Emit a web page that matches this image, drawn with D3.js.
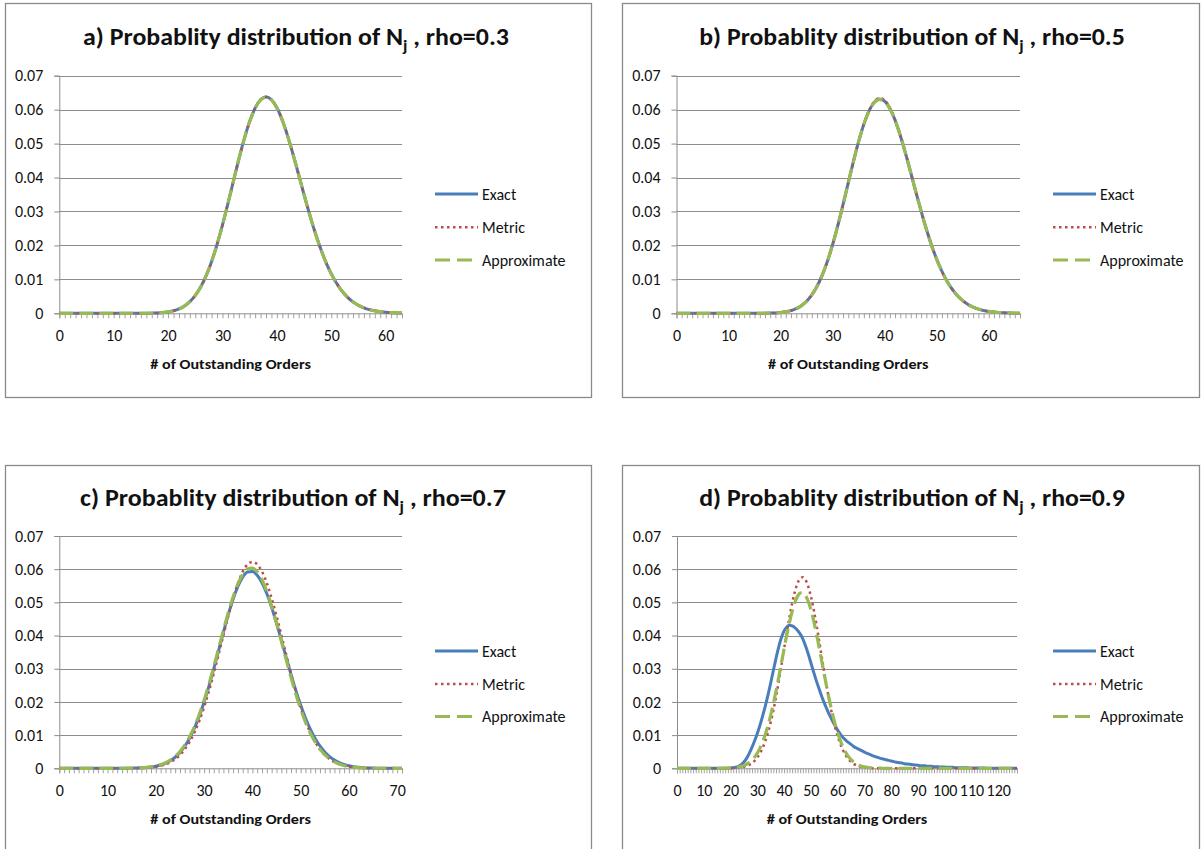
<!DOCTYPE html>
<html>
<head>
<meta charset="utf-8">
<script src="https://cdn.jsdelivr.net/npm/d3@7"></script>
<style>
  body { margin: 0; background: #fff; }
  text { font-family: "Carlito", "Liberation Sans Narrow", Roboto, sans-serif; fill: #111; }
</style>
</head>
<body>
<svg id="chart" width="1204" height="849"></svg>
<script>
// ---- data ----
var seriesNames = ["Exact", "Metric", "Approximate"];
var rhoLabels = ["0.3", "0.5", "0.7", "0.9"];
var yTickValues = [0, 0.01, 0.02, 0.03, 0.04, 0.05, 0.06, 0.07];
var yTickLabels = ["0", "0.01", "0.02", "0.03", "0.04", "0.05", "0.06", "0.07"];
var xTicksA = [0, 10, 20, 30, 40, 50, 60];
var xTicksB = [0, 10, 20, 30, 40, 50, 60];
var xTicksC = [0, 10, 20, 30, 40, 50, 60, 70];
var xTicksD = [0, 10, 20, 30, 40, 50, 60, 70, 80, 90, 100, 110, 120];

// a) rho=0.3, orders 0..63
var exactA = [0,0,0,0,0,0,0,0,0,0,0,0,0,0,0,
  0.00001,0.00002,0.00005,0.00010,0.00021,0.00040,0.00073,0.00127,0.00213,0.00342,
  0.00526,0.00779,0.01111,0.01528,0.02028,0.02603,0.03233,0.03890,0.04538,0.05139,
  0.05653,0.06045,0.06290,0.06373,0.06291,0.06055,0.05686,0.05212,0.04667,0.04083,
  0.03493,0.02924,0.02395,0.01921,0.01509,0.01162,0.00877,0.00649,0.00471,0.00336,
  0.00235,0.00162,0.00109,0.00073,0.00047,0.00030,0.00019,0.00012,0.00007];
var metricA = [0,0,0,0,0,0,0,0,0,0,0,0,0,0,0,
  0.00001,0.00002,0.00005,0.00010,0.00021,0.00040,0.00073,0.00127,0.00213,0.00342,
  0.00526,0.00779,0.01111,0.01528,0.02028,0.02603,0.03233,0.03890,0.04538,0.05139,
  0.05655,0.06048,0.06294,0.06380,0.06296,0.06058,0.05688,0.05212,0.04667,0.04083,
  0.03493,0.02924,0.02395,0.01921,0.01509,0.01162,0.00877,0.00649,0.00471,0.00336,
  0.00235,0.00162,0.00109,0.00073,0.00047,0.00030,0.00019,0.00012,0.00007];
var approxA = [0,0,0,0,0,0,0,0,0,0,0,0,0,0,0,
  0.00001,0.00002,0.00005,0.00010,0.00021,0.00040,0.00073,0.00127,0.00213,0.00342,
  0.00526,0.00779,0.01111,0.01528,0.02028,0.02603,0.03233,0.03890,0.04538,0.05139,
  0.05652,0.06042,0.06286,0.06366,0.06286,0.06052,0.05685,0.05212,0.04667,0.04083,
  0.03493,0.02924,0.02395,0.01921,0.01509,0.01162,0.00877,0.00649,0.00471,0.00336,
  0.00235,0.00162,0.00109,0.00073,0.00047,0.00030,0.00019,0.00012,0.00007];

// b) rho=0.5, orders 0..66
var exactB = [0,0,0,0,0,0,0,0,0,0,0,0,0,0,0,0,
  0.00001,0.00003,0.00006,0.00012,0.00023,0.00044,0.00079,0.00136,0.00225,0.00356,
  0.00542,0.00795,0.01124,0.01535,0.02026,0.02588,0.03203,0.03844,0.04477,0.05065,
  0.05572,0.05963,0.06214,0.06310,0.06247,0.06034,0.05689,0.05239,0.04715,0.04149,
  0.03572,0.03010,0.02483,0.02007,0.01590,0.01235,0.00940,0.00702,0.00515,0.00371,
  0.00262,0.00182,0.00124,0.00083,0.00055,0.00036,0.00023,0.00014,0.00009,0.00005,0.00003];
var metricB = [0,0,0,0,0,0,0,0,0,0,0,0,0,0,0,0,
  0.00001,0.00003,0.00006,0.00012,0.00023,0.00044,0.00079,0.00136,0.00225,0.00356,
  0.00542,0.00795,0.01124,0.01535,0.02026,0.02588,0.03203,0.03844,0.04477,0.05070,
  0.05585,0.05985,0.06240,0.06340,0.06275,0.06055,0.05700,0.05245,0.04715,0.04149,
  0.03572,0.03010,0.02483,0.02007,0.01590,0.01235,0.00940,0.00702,0.00515,0.00371,
  0.00262,0.00182,0.00124,0.00083,0.00055,0.00036,0.00023,0.00014,0.00009,0.00005,0.00003];
var approxB = [0,0,0,0,0,0,0,0,0,0,0,0,0,0,0,0,
  0.00001,0.00003,0.00006,0.00012,0.00023,0.00044,0.00079,0.00136,0.00225,0.00356,
  0.00542,0.00795,0.01124,0.01535,0.02026,0.02588,0.03203,0.03844,0.04477,0.05065,
  0.05570,0.05960,0.06210,0.06305,0.06243,0.06032,0.05689,0.05239,0.04715,0.04149,
  0.03572,0.03010,0.02483,0.02007,0.01590,0.01235,0.00940,0.00702,0.00515,0.00371,
  0.00262,0.00182,0.00124,0.00083,0.00055,0.00036,0.00023,0.00014,0.00009,0.00005,0.00003];

// c) rho=0.7, orders 0..71
var exactC = [0,0,0,0,0,0,0,0,0,0,0,0,0,
  0.00001,0.00002,0.00005,0.00008,0.00014,0.00024,0.00039,0.00063,0.00099,0.00152,
  0.00228,0.00333,0.00477,0.00666,0.00907,0.01208,0.01572,0.01996,0.02476,0.02999,
  0.03548,0.04098,0.04624,0.05095,0.05483,0.05763,0.05915,0.05930,0.05819,0.05591,
  0.05261,0.04847,0.04373,0.03863,0.03342,0.02831,0.02348,0.01907,0.01517,0.01181,
  0.00901,0.00673,0.00492,0.00352,0.00247,0.00170,0.00114,0.00075,0.00048,0.00031,
  0.00019,0.00011,0.00007,0.00004,0.00002,0.00001,0,0,0];
var metricC = [0,0,0,0,0,0,0,0,0,0,0,0,0,
  0.00001,0.00002,0.00003,0.00006,0.00010,0.00017,0.00029,0.00048,0.00077,0.00121,
  0.00185,0.00276,0.00403,0.00573,0.00796,0.01079,0.01427,0.01843,0.02322,0.02855,
  0.03427,0.04014,0.04589,0.05120,0.05575,0.05925,0.06145,0.06220,0.06145,0.05925,
  0.05575,0.05120,0.04589,0.04014,0.03427,0.02855,0.02322,0.01843,0.01427,0.01079,
  0.00796,0.00573,0.00403,0.00276,0.00185,0.00121,0.00077,0.00048,0.00029,0.00017,
  0.00010,0.00006,0.00003,0.00002,0.00001,0,0,0,0];
var approxC = [0,0,0,0,0,0,0,0,0,0,0,0,0,
  0.00001,0.00003,0.00005,0.00009,0.00016,0.00027,0.00044,0.00070,0.00109,0.00166,
  0.00246,0.00356,0.00505,0.00700,0.00948,0.01255,0.01623,0.02051,0.02533,0.03058,
  0.03608,0.04159,0.04687,0.05161,0.05555,0.05843,0.06006,0.06034,0.05924,0.05684,
  0.05330,0.04885,0.04375,0.03830,0.03276,0.02739,0.02238,0.01787,0.01394,0.01063,
  0.00793,0.00577,0.00411,0.00286,0.00194,0.00129,0.00084,0.00053,0.00033,0.00020,
  0.00012,0.00007,0.00004,0.00002,0.00001,0,0,0,0];

// d) rho=0.9, orders 0..127
var exactD = [0,0,0,0,0,0,0,0,0,0,0,0,0,0,0,0,0,0,0,0,
  0.0001,0.0002,0.0003,0.0006,0.0011,0.0019,0.0030,0.0045,0.0063,0.0083,
  0.0105,0.0130,0.0158,0.0188,0.0221,0.0257,0.0295,0.0332,0.0366,0.0394,
  0.0414,0.0426,0.0431,0.0429,0.0424,0.0416,0.0405,0.0390,0.0369,0.0345,
  0.0318,0.0291,0.0265,0.0241,0.0218,0.0197,0.0178,0.0160,0.0144,0.0129,
  0.0115,0.0103,0.0093,0.0085,0.0078,0.0072,0.0066,0.0061,0.0057,0.0053,
  0.0049,0.0045,0.0042,0.0038,0.0035,0.0033,0.0030,0.0028,0.0026,0.0024,
  0.0022,0.0020,0.0018,0.0017,0.0016,0.0014,0.0013,0.0012,0.0011,0.0010,
  0.0009,0.0008,0.0008,0.0007,0.0006,0.0006,0.0005,0.0005,0.0004,0.0004,
  0.0004,0.0003,0.0003,0.0003,0.0002,0.0002,0.0002,0.0002,0.0002,0.0001,
  0.0001,0.0001,0.0001,0.0001,0.0001,0.0001,
  0,0,0,0,0,0,0,0,0,0,0,0];
var metricD = [0,0,0,0,0,0,0,0,0,0,0,0,0,0,0,0,0,0,
  0.00001,0.00002,0.00004,0.00007,0.00011,0.00018,0.00029,0.00045,0.00070,0.00105,
  0.00156,0.00227,0.00323,0.00451,0.00616,0.00825,0.01082,0.01391,0.01752,0.02162,
  0.02614,0.03096,0.03593,0.04086,0.04553,0.04971,0.05317,0.05573,0.05722,0.05758,
  0.05676,0.05482,0.05188,0.04811,0.04371,0.03891,0.03394,0.02900,0.02429,0.01992,
  0.01602,0.01261,0.00973,0.00736,0.00545,0.00396,0.00281,0.00196,0.00134,0.00090,
  0.00059,0.00038,0.00024,0.00015,0.00009,0.00005,0.00003,0.00002,0.00001,
  0,0,0,0,0,0,0,0,0,0,0,0,0,0,0,0,0,0,0,0,0,0,0,0,0,
  0,0,0,0,0,0,0,0,0,0,0,0,0,0,0,0,0,0,0,0,0,0,0,0,0,0];
var approxD = [0,0,0,0,0,0,0,0,0,0,0,0,0,0,0,0,
  0.00001,0.00002,0.00004,0.00006,0.00010,0.00015,0.00024,0.00038,0.00057,0.00084,
  0.00122,0.00174,0.00245,0.00338,0.00458,0.00609,0.00797,0.01024,0.01292,0.01602,
  0.01952,0.02336,0.02747,0.03172,0.03598,0.04011,0.04391,0.04723,0.04991,0.05181,
  0.05283,0.05292,0.05208,0.05035,0.04782,0.04462,0.04090,0.03683,0.03257,0.02831,
  0.02416,0.02027,0.01669,0.01351,0.01074,0.00839,0.00644,0.00485,0.00359,0.00261,
  0.00187,0.00131,0.00090,0.00061,0.00041,0.00027,0.00017,0.00011,0.00007,0.00004,
  0.00003,0.00002,0.00001,
  0,0,0,0,0,0,0,0,0,0,0,0,0,0,0,0,0,0,0,0,0,0,0,0,0,
  0,0,0,0,0,0,0,0,0,0,0,0,0,0,0,0,0,0,0,0,0,0,0,0];

// ---- layout ----
var colors = ["#4a7ebb", "#be4b48", "#98b954"];
var widths = [3, 2.5, 3.2];
var dashes = [null, "2.5,3.5", "14,6"];
var legendDashes = [null, "2.5,3.5", "15,7"];
var fontStack = "Carlito, 'Liberation Sans Narrow', Roboto, sans-serif";

var panels = [
  {tag: "a", rho: rhoLabels[0], series: [exactA, metricA, approxA], ticks: xTicksA,
   frame: [5.5, 3.5, 586, 394], plot: [59.3, 402, 75.7, 313.3], titleX: 296, titleY: 45,
   legX: 435, legY: [194, 227.3, 260]},
  {tag: "b", rho: rhoLabels[1], series: [exactB, metricB, approxB], ticks: xTicksB,
   frame: [622.5, 3.5, 577, 394], plot: [676.5, 1020, 75.7, 313.3], titleX: 912, titleY: 45,
   legX: 1053, legY: [194, 227.3, 260]},
  {tag: "c", rho: rhoLabels[2], series: [exactC, metricC, approxC], ticks: xTicksC,
   frame: [5.5, 465.5, 586, 400], plot: [59.3, 402, 536, 768.3], titleX: 293, titleY: 506,
   legX: 435, legY: [651, 684, 716.5]},
  {tag: "d", rho: rhoLabels[3], series: [exactD, metricD, approxD], ticks: xTicksD,
   frame: [622.5, 465.5, 577, 400], plot: [677, 1017, 536, 768.3], titleX: 912, titleY: 506,
   legX: 1053, legY: [651, 684, 716.5]}
];

var svg = d3.select("#chart");

function fitWidth(sel, cx, cy, target) {
  var w = sel.node().getBBox().width;
  sel.attr("transform", "translate(" + cx + "," + cy + ") scale(" + (target / w) + ",1)");
}

panels.forEach(function (p) {
  var g = svg.append("g");
  var n = p.series[0].length;

  g.append("rect")
    .attr("x", p.frame[0]).attr("y", p.frame[1])
    .attr("width", p.frame[2]).attr("height", p.frame[3])
    .attr("fill", "#fff").attr("stroke", "#8a8a8a").attr("stroke-width", 1.3);

  var x = d3.scaleLinear().domain([0, n - 1]).range([p.plot[0], p.plot[1]]);
  var y = d3.scaleLinear().domain([0, 0.07]).range([p.plot[3], p.plot[2]]);

  // title
  var t = g.append("text").attr("text-anchor", "middle")
    .style("font-size", "24px").style("font-weight", "bold");
  t.append("tspan").text(p.tag + ") Probablity distribution of N");
  t.append("tspan").attr("dy", 6).style("font-size", "16px").text("j");
  t.append("tspan").attr("dy", -6).text(" , rho=" + p.rho);
  fitWidth(t, p.titleX, p.titleY, 426);

  // gridlines
  g.selectAll(".grid").data(yTickValues.slice(1)).enter().append("line")
    .attr("x1", p.plot[0]).attr("x2", p.plot[1])
    .attr("y1", function (d) { return Math.round(y(d)) + 0.5; })
    .attr("y2", function (d) { return Math.round(y(d)) + 0.5; })
    .attr("stroke", "#8c8c8c").attr("stroke-width", 1);

  // y axis
  var yAxis = d3.axisLeft(y).tickValues(yTickValues).tickSize(5).tickPadding(11)
    .tickFormat(function (d, i) { return yTickLabels[i]; });
  var ya = g.append("g").attr("transform", "translate(" + p.plot[0] + ",0)").call(yAxis);
  ya.select(".domain").attr("stroke", "#8c8c8c");
  ya.selectAll(".tick line").attr("stroke", "#8c8c8c");
  ya.selectAll(".tick text").style("font-size", "16px").attr("fill", "#111")
    .style("font-family", fontStack);

  // x axis: minor tick at every category, labels every ten
  var xMinor = d3.axisBottom(x).tickValues(d3.range(n)).tickSize(5).tickFormat("");
  var xa = g.append("g").attr("transform", "translate(0," + p.plot[3] + ")").call(xMinor);
  xa.select(".domain").attr("stroke", "#8c8c8c");
  xa.selectAll(".tick line").attr("stroke", "#a0a0a0");

  var xLab = d3.axisBottom(x).tickValues(p.ticks).tickSize(0).tickPadding(16);
  var xl = g.append("g").attr("transform", "translate(0," + p.plot[3] + ")").call(xLab);
  xl.select(".domain").remove();
  xl.selectAll(".tick text").style("font-size", "16px").attr("fill", "#111")
    .style("font-family", fontStack);

  // axis title
  var at = g.append("text").attr("text-anchor", "middle")
    .style("font-size", "14.5px").style("font-weight", "bold")
    .text("# of Outstanding Orders");
  fitWidth(at, (p.plot[0] + p.plot[1]) / 2, p.plot[3] + 56, 161);

  // lines
  var line = d3.line()
    .x(function (d, i) { return x(i); })
    .y(function (d) { return y(d); })
    .curve(d3.curveMonotoneX);

  p.series.forEach(function (s, k) {
    g.append("path").datum(s)
      .attr("d", line)
      .attr("fill", "none")
      .attr("stroke", colors[k])
      .attr("stroke-width", widths[k])
      .attr("stroke-dasharray", dashes[k]);
  });

  // legend
  seriesNames.forEach(function (name, k) {
    var ly = p.legY[k];
    g.append("line")
      .attr("x1", p.legX).attr("x2", p.legX + 43)
      .attr("y1", ly).attr("y2", ly)
      .attr("stroke", colors[k]).attr("stroke-width", widths[k])
      .attr("stroke-dasharray", legendDashes[k]);
    g.append("text")
      .attr("x", p.legX + 47).attr("y", ly)
      .attr("dy", "0.35em")
      .style("font-size", "16px")
      .text(name);
  });
});
</script>
</body>
</html>
